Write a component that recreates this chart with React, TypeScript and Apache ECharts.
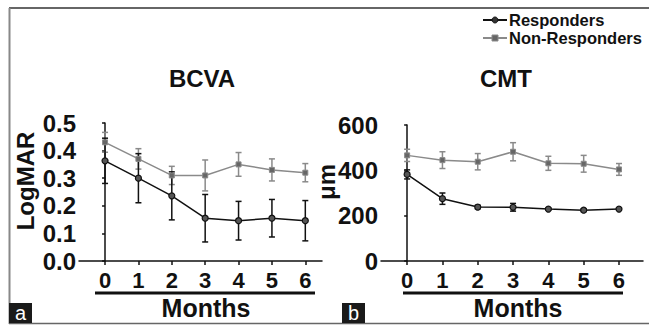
import React, { useEffect, useRef } from "react";
import * as echarts from "echarts";

const months = [0, 1, 2, 3, 4, 5, 6];
const bcvaResp = [0.363, 0.3, 0.236, 0.155, 0.146, 0.155, 0.146];
const bcvaRespErr = [0.082, 0.089, 0.087, 0.086, 0.07, 0.068, 0.073];
const bcvaNon = [0.43, 0.37, 0.31, 0.31, 0.35, 0.33, 0.32];
const bcvaNonErr = [0.036, 0.037, 0.033, 0.056, 0.043, 0.04, 0.033];
const cmtResp = [382, 275, 238, 237, 229, 224, 229];
const cmtRespErr = [20, 25, 8, 17, 4, 6, 4];
const cmtNon = [466, 445, 438, 482, 431, 429, 404];
const cmtNonErr = [27, 37, 36, 40, 31, 37, 26];
const legendNames = ["Responders", "Non-Responders"];

const FONT = "'Liberation Sans', Arial, Helvetica, sans-serif";
const BLACK = "#111111";
const GRAY = "#8a8a8a";

function errSeries(vals: number[], errs: number[], color: string, xi: number) {
  return {
    type: "custom",
    xAxisIndex: xi,
    yAxisIndex: xi,
    silent: true,
    z: 1,
    encode: { x: 0, y: [1, 2] },
    data: months.map((m, i) => [m, vals[i] - errs[i], vals[i] + errs[i]]),
    renderItem: (params: any, api: any) => {
      const x = api.value(0);
      const lo = api.coord([x, api.value(1)]);
      const hi = api.coord([x, api.value(2)]);
      const w = 3;
      const st = { stroke: color, lineWidth: 1.5 };
      return {
        type: "group",
        children: [
          { type: "line", shape: { x1: hi[0], y1: hi[1], x2: lo[0], y2: lo[1] }, style: st },
          { type: "line", shape: { x1: hi[0] - w, y1: hi[1], x2: hi[0] + w, y2: hi[1] }, style: st },
          { type: "line", shape: { x1: lo[0] - w, y1: lo[1], x2: lo[0] + w, y2: lo[1] }, style: st },
        ],
      };
    },
  };
}

function lineSeries(name: string, vals: number[], xi: number, resp: boolean) {
  return {
    type: "line",
    name,
    xAxisIndex: xi,
    yAxisIndex: xi,
    z: 3,
    data: months.map((m, i) => [m, vals[i]]),
    symbol: resp ? "circle" : "rect",
    symbolSize: resp ? 6 : 5,
    lineStyle: { color: resp ? BLACK : GRAY, width: 1.5 },
    itemStyle: resp
      ? { color: "#555555", borderColor: BLACK, borderWidth: 1.2 }
      : { color: "#666666", borderColor: GRAY, borderWidth: 1 },
  };
}

function xAxis(gi: number, min: number, max: number) {
  return {
    type: "value",
    gridIndex: gi,
    min,
    max,
    splitLine: { show: false },
    axisLine: { show: true, lineStyle: { color: BLACK, width: 1.5 } },
    axisTick: { show: true, length: 4, customValues: months, lineStyle: { color: BLACK, width: 1.5 } },
    axisLabel: {
      customValues: months,
      margin: 8,
      color: BLACK,
      fontSize: 22,
      fontWeight: "bold",
      fontFamily: FONT,
    },
  };
}

function yAxis(gi: number, max: number, interval: number, dec: number) {
  return {
    type: "value",
    gridIndex: gi,
    min: 0,
    max,
    interval,
    splitLine: { show: false },
    axisLine: { show: true, lineStyle: { color: BLACK, width: 1.5 } },
    axisTick: { show: true, length: 3, lineStyle: { color: BLACK, width: 1.5 } },
    axisLabel: {
      margin: 3,
      color: BLACK,
      fontSize: 24,
      fontWeight: "bold",
      fontFamily: FONT,
      formatter: (v: number) => v.toFixed(dec),
    },
  };
}

const txt = (x: number, y: number, text: string, size: number, extra: any = {}, align = "center") => ({
  type: "text",
  x,
  y,
  style: {
    text,
    fill: BLACK,
    font: `bold ${size}px ${FONT}`,
    textAlign: align,
    textVerticalAlign: "middle",
  },
  ...extra,
});

export default function App() {
  const ref = useRef<HTMLDivElement>(null);
  useEffect(() => {
    document.body.style.margin = "0";
    const chart = echarts.init(ref.current!, null, { renderer: "svg" });
    chart.setOption({
      animation: false,
      backgroundColor: "#ffffff",
      grid: [
        { left: 79, top: 123, width: 243, height: 138 },
        { left: 381, top: 125, width: 262, height: 136 },
      ],
      xAxis: [xAxis(0, -0.78, 6.5), xAxis(1, -0.74, 6.68)],
      yAxis: [yAxis(0, 0.5, 0.1, 1), yAxis(1, 600, 200, 0)],
      series: [
        errSeries(bcvaNon, bcvaNonErr, GRAY, 0),
        lineSeries(legendNames[1], bcvaNon, 0, false),
        errSeries(bcvaResp, bcvaRespErr, BLACK, 0),
        lineSeries(legendNames[0], bcvaResp, 0, true),
        errSeries(cmtNon, cmtNonErr, GRAY, 1),
        lineSeries(legendNames[1], cmtNon, 1, false),
        errSeries(cmtResp, cmtRespErr, BLACK, 1),
        lineSeries(legendNames[0], cmtResp, 1, true),
      ],
      graphic: [
        { type: "line", shape: { x1: 9, y1: 8, x2: 649, y2: 8 }, style: { stroke: "#333333", lineWidth: 1.5 } },
        { type: "line", shape: { x1: 9.5, y1: 8, x2: 9.5, y2: 324 }, style: { stroke: "#888888", lineWidth: 2 } },
        { type: "line", shape: { x1: 9, y1: 323.5, x2: 649, y2: 323.5 }, style: { stroke: "#666666", lineWidth: 1.5 } },
        // legend
        { type: "line", shape: { x1: 483, y1: 20, x2: 507, y2: 20 }, style: { stroke: BLACK, lineWidth: 2 } },
        { type: "circle", shape: { cx: 495, cy: 20, r: 3 }, style: { fill: "#333333", stroke: BLACK, lineWidth: 1 } },
        txt(509, 20, legendNames[0], 16.5, {}, "left"),
        { type: "line", shape: { x1: 483, y1: 38, x2: 507, y2: 38 }, style: { stroke: GRAY, lineWidth: 2 } },
        { type: "rect", shape: { x: 492, y: 35, width: 6, height: 6 }, style: { fill: "#666666", stroke: GRAY, lineWidth: 1 } },
        txt(509, 38, legendNames[1], 16.5, {}, "left"),
        txt(202, 78, "BCVA", 24),
        txt(506, 78, "CMT", 24),
        txt(25, 181, "LogMAR", 24, { rotation: Math.PI / 2 }),
        txt(326, 182, "μm", 24, { rotation: Math.PI / 2 }),
        { type: "line", shape: { x1: 95, y1: 293, x2: 315, y2: 293 }, style: { stroke: BLACK, lineWidth: 3 } },
        { type: "line", shape: { x1: 403, y1: 293, x2: 623, y2: 293 }, style: { stroke: BLACK, lineWidth: 3 } },
        txt(206, 308, "Months", 25),
        txt(518, 308, "Months", 25),
        { type: "rect", shape: { x: 9, y: 303, width: 23, height: 20 }, style: { fill: "#1a1a1a" } },
        { type: "rect", shape: { x: 342, y: 303, width: 23, height: 20 }, style: { fill: "#1a1a1a" } },
        {
          type: "text", x: 20.5, y: 313,
          style: { text: "a", fill: "#ffffff", font: `20px ${FONT}`, textAlign: "center", textVerticalAlign: "middle" },
        },
        {
          type: "text", x: 353.5, y: 313,
          style: { text: "b", fill: "#ffffff", font: `20px ${FONT}`, textAlign: "center", textVerticalAlign: "middle" },
        },
      ],
    });
    return () => chart.dispose();
  }, []);
  return <div ref={ref} style={{ width: 649, height: 326 }} />;
}
